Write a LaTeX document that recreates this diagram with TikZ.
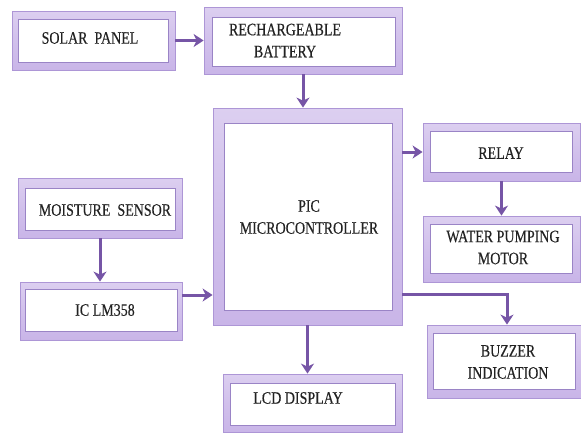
\documentclass[tikz,border=0pt]{standalone}
\usepackage{fontspec}
\setmainfont{Liberation Serif}[FakeStretch=0.8,FakeBold=0.3]
\usetikzlibrary{arrows.meta,fit}
\definecolor{frame}{HTML}{C9B5E8}
\definecolor{frameedge}{HTML}{AD96D6}
\definecolor{inneredge}{HTML}{9A84C6}
\definecolor{arrowc}{HTML}{7655A6}
\definecolor{txt}{HTML}{222222}
\tikzset{
  outerbox/.style={draw=frameedge, line width=0.8pt, top color=frame!65!white, bottom color=frame, middle color=frame!85!white, inner sep=0pt},
  innerbox/.style={draw=inneredge, line width=0.8pt, fill=white, inner sep=0pt},
  lbl/.style={font=\fontsize{17.5}{22}\selectfont, text=txt, align=center, inner sep=0pt},
  conn/.style={draw=arrowc, line width=3pt, -{Stealth[length=10pt,width=13pt,inset=3pt]}},
}
\begin{document}
\begin{tikzpicture}[x=1pt,y=-1pt]
\useasboundingbox (0,0) rectangle (581,432);
% Solar panel
\node[outerbox, fit={(12,11)(175,70)}] (solarO) {};
\node[innerbox, fit={(18,19)(168,62)}] (solarI) {};
\node[lbl] (solarT) at (90,38) {SOLAR\ \ PANEL};
% Battery
\node[outerbox, fit={(204,7)(402,74)}] (batO) {};
\node[innerbox, fit={(212,17)(395,66)}] (batI) {};
\node[lbl] (batT) at (285,40.5) {RECHARGEABLE\\BATTERY};
% PIC
\node[outerbox, fit={(213,108)(402,325)}] (picO) {};
\node[innerbox, fit={(224,123)(392,310)}] (picI) {};
\node[lbl] (picT) at (309,217) {PIC\\MICROCONTROLLER};
% Relay
\node[outerbox, fit={(423,123)(580,181)}] (relayO) {};
\node[innerbox, fit={(430,131)(572,172)}] (relayI) {};
\node[lbl] (relayT) at (501,153) {RELAY};
% Motor
\node[outerbox, fit={(423,216)(580,282)}] (motorO) {};
\node[innerbox, fit={(430,224)(572,273)}] (motorI) {};
\node[lbl] (motorT) at (503,247.5) {WATER PUMPING\\MOTOR};
% Buzzer
\node[outerbox, fit={(427,325)(581,398)}] (buzzO) {};
\node[innerbox, fit={(433,333)(575,389)}] (buzzI) {};
\node[lbl] (buzzT) at (508,362) {BUZZER\\INDICATION};
% LCD
\node[outerbox, fit={(223,374)(402,432)}] (lcdO) {};
\node[innerbox, fit={(230,383)(395,425)}] (lcdI) {};
\node[lbl] (lcdT) at (298,398) {LCD DISPLAY};
% Moisture
\node[outerbox, fit={(18,178)(182,238)}] (moistO) {};
\node[innerbox, fit={(25,188)(175,230)}] (moistI) {};
\node[lbl] (moistT) at (105,210) {MOISTURE\ \ SENSOR};
% IC
\node[outerbox, fit={(20,282)(182,340)}] (icO) {};
\node[innerbox, fit={(25,289)(177,331)}] (icI) {};
\node[lbl] (icT) at (105,310) {IC LM358};
% connectors
\coordinate (icout) at ([yshift=16pt]icO.east);
\coordinate (picbz) at ([yshift=-78pt]picO.east);
\coordinate (bzin) at ([xshift=3pt]buzzO.north);
\draw[conn] (solarO.east) -- (batO.west |- solarO.east);
\draw[conn] (batO.south) -- (picO.north -| batO.south);
\draw[conn] (picO.east |- relayO.west) -- (relayO.west);
\draw[conn] (relayO.south) -- (motorO.north -| relayO.south);
\draw[conn] (picbz) -| (bzin);
\draw[conn] (picO.south) -- (lcdO.north -| picO.south);
\draw[conn] (moistO.south) -- (icO.north -| moistO.south);
\draw[conn] (icout) -- (picO.west |- icout);
\end{tikzpicture}
\end{document}
